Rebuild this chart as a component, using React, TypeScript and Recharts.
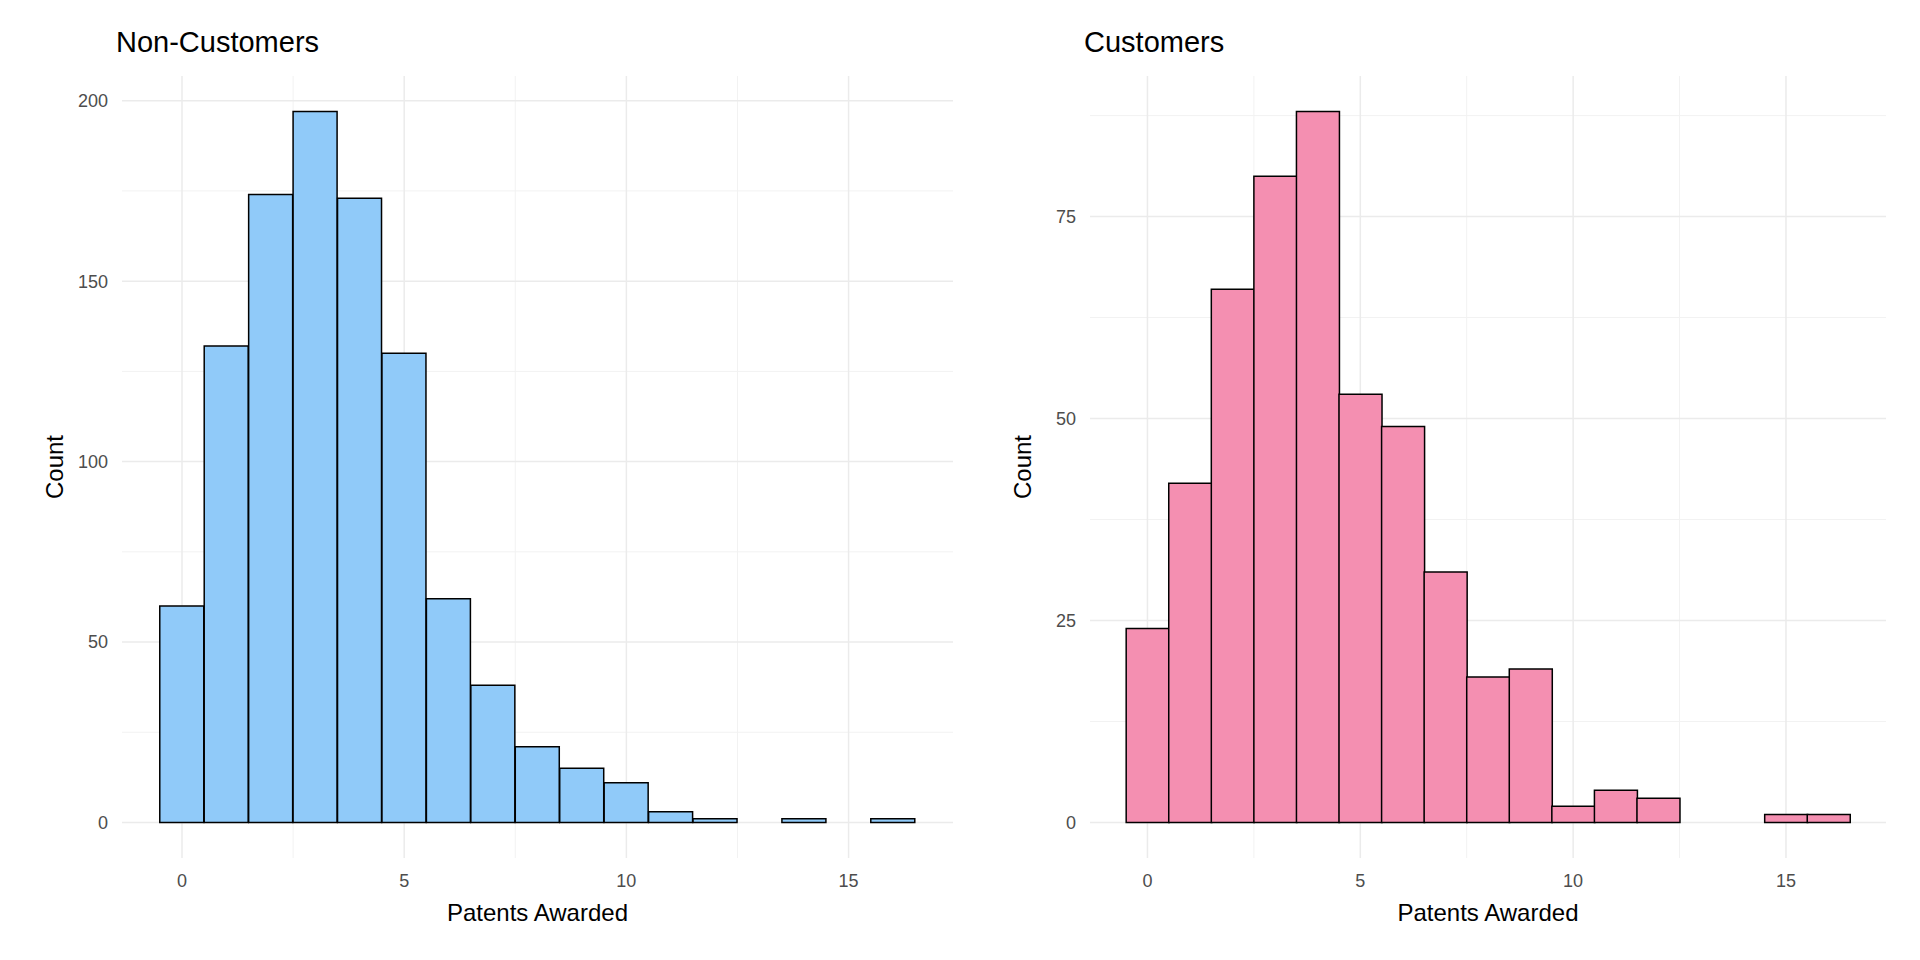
import { ComposedChart, Bar, XAxis, YAxis, CartesianGrid } from 'recharts';

const bins = [0, 1, 2, 3, 4, 5, 6, 7, 8, 9, 10, 11, 12, 13, 14, 15, 16];
const nonCustomerCounts = [60, 132, 174, 197, 173, 130, 62, 38, 21, 15, 11, 3, 1, 0, 1, 0, 1];
const customerCounts = [24, 42, 66, 80, 88, 53, 49, 31, 18, 19, 2, 4, 3, 0, 0, 1, 1];
const xTicks = [0, 5, 10, 15];
const xMinor = [2.5, 7.5, 12.5];
const nonCustomerTicks = [0, 50, 100, 150, 200];
const nonCustomerMinor = [25, 75, 125, 175];
const customerTicks = [0, 25, 50, 75];
const customerMinor = [12.5, 37.5, 62.5, 87.5];

const FONT = 'Arial, "Liberation Sans", sans-serif';
const tickStyle = { fontSize: 18, fill: '#4d4d4d', fontFamily: FONT };

interface PanelProps {
  title: string;
  counts: number[];
  color: string;
  yTicks: number[];
  yMinor: number[];
  yMax: number;
  left: number;
  marginLeft: number;
  marginRight: number;
}

function Panel({ title, counts, color, yTicks, yMinor, yMax, left, marginLeft, marginRight }: PanelProps) {
  const data = bins.map((b, i) => ({ x: b, count: counts[i] }));
  const pad = yMax * 0.05;
  return (
    <div style={{ position: 'absolute', left, top: 0, width: 960, height: 960 }}>
      <div
        style={{
          position: 'absolute',
          left: marginLeft + 54,
          top: 26,
          fontSize: 29,
          fontFamily: FONT,
          color: '#000',
        }}
      >
        {title}
      </div>
      <ComposedChart
        width={960}
        height={960}
        data={data}
        barCategoryGap={0}
        barGap={0}
        margin={{ top: 76, right: marginRight, bottom: 0, left: marginLeft }}
      >
        <CartesianGrid
          stroke="#f2f2f2"
          strokeWidth={1}
          horizontalValues={yMinor}
          verticalValues={xMinor}
        />
        <CartesianGrid
          stroke="#ebebeb"
          strokeWidth={1.5}
          horizontalValues={yTicks}
          verticalValues={xTicks}
        />
        <XAxis
          dataKey="x"
          type="number"
          domain={[-1.35, 17.35]}
          ticks={xTicks}
          tick={tickStyle}
          tickLine={false}
          axisLine={false}
          tickMargin={10}
          height={102}
          label={{ value: 'Patents Awarded', position: 'insideTop', offset: 46, fontSize: 24, fill: '#000', fontFamily: FONT }}
        />
        <YAxis
          type="number"
          domain={[-pad, yMax + pad]}
          ticks={yTicks}
          tick={tickStyle}
          tickLine={false}
          axisLine={false}
          tickMargin={8}
          width={60}
          label={{ value: 'Count', angle: -90, position: 'insideLeft', offset: -8, fontSize: 24, fill: '#000', fontFamily: FONT, style: { textAnchor: 'middle' } }}
        />
        <Bar dataKey="count" fill={color} stroke="#000" strokeWidth={1.5} isAnimationActive={false} />
      </ComposedChart>
    </div>
  );
}

export default function App() {
  return (
    <div style={{ position: 'absolute', left: 0, top: 0, width: 1920, height: 960, background: '#fff' }}>
      <Panel
        title="Non-Customers"
        counts={nonCustomerCounts}
        color="#90caf9"
        yTicks={nonCustomerTicks}
        yMinor={nonCustomerMinor}
        yMax={197}
        left={0}
        marginLeft={62}
        marginRight={7}
      />
      <Panel
        title="Customers"
        counts={customerCounts}
        color="#f48fb1"
        yTicks={customerTicks}
        yMinor={customerMinor}
        yMax={88}
        left={960}
        marginLeft={70}
        marginRight={34}
      />
    </div>
  );
}
